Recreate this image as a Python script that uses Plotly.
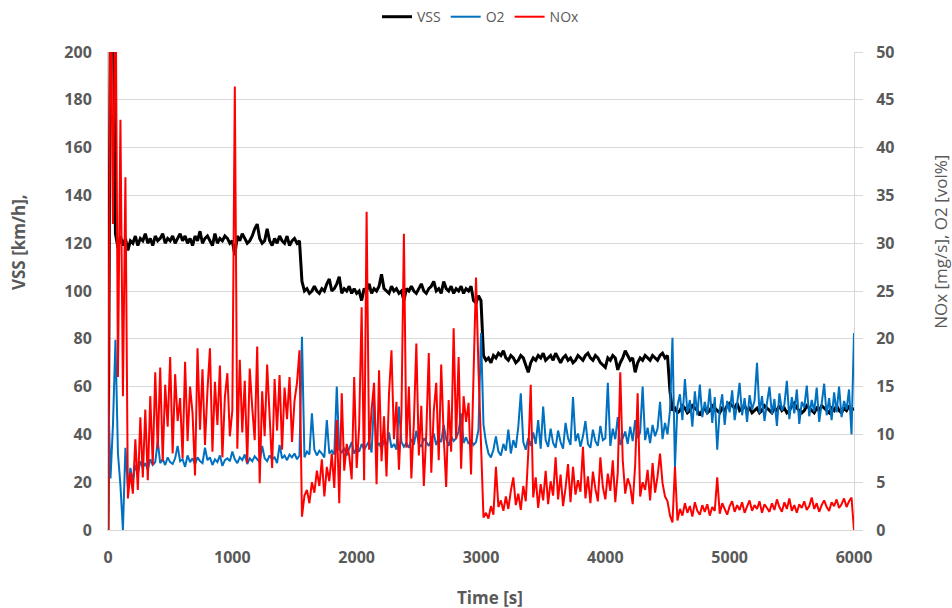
import plotly.graph_objects as go

# time grid [s], one sample every 20 s
time_s = list(range(0, 6001, 20))

# VSS [km/h], left axis
vss = [
    0, 230, 230, 124, 118, 123, 119, 122, 117, 121,
    120, 123, 119, 122, 121, 124, 120, 122, 119, 123,
    121, 122, 124, 120, 122, 121, 123, 120, 122, 124,
    121, 123, 120, 122, 119, 123, 121, 125, 120, 122,
    123, 121, 119, 124, 120, 122, 121, 123, 122, 120,
    121, 115, 123, 121, 124, 122, 120, 121, 123, 126,
    128, 122, 120, 121, 126, 121, 119, 122, 120, 123,
    121, 120, 123, 119, 121, 122, 120, 121, 104, 100,
    101, 99, 100, 102, 100, 99, 101, 100, 103, 105,
    100, 101, 103, 106, 99, 101, 100, 102, 99, 101,
    99, 100, 96, 101, 100, 103, 99, 101, 100, 102,
    107, 101, 100, 99, 102, 100, 101, 99, 100, 96,
    101, 100, 102, 100, 99, 101, 103, 100, 99, 101,
    102, 104, 100, 101, 99, 104, 101, 100, 102, 99,
    101, 100, 102, 99, 101, 100, 102, 96, 95, 98,
    96, 73, 71, 72, 70, 73, 72, 74, 73, 75,
    72, 71, 73, 72, 70, 71, 73, 72, 69, 66,
    70, 72, 71, 73, 72, 74, 71, 72, 73, 71,
    74, 72, 70, 72, 73, 71, 72, 70, 71, 73,
    72, 71, 73, 74, 72, 71, 73, 72, 70, 69,
    68, 72, 71, 73, 72, 67, 70, 72, 75, 73,
    71, 72, 66, 70, 72, 71, 73, 72, 71, 73,
    72, 71, 73, 74, 72, 73, 58, 50, 51, 49,
    50, 52, 51, 49, 50, 52, 51, 50, 48, 50,
    51, 49, 50, 52, 51, 50, 49, 51, 50, 52,
    53, 52, 51, 53, 50, 51, 52, 50, 51, 49,
    50, 51, 49, 50, 52, 51, 50, 49, 51, 50,
    52, 50, 51, 49, 50, 52, 53, 51, 50, 49,
    50, 52, 51, 50, 49, 51, 50, 52, 51, 50,
    49, 51, 50, 52, 50, 49, 51, 50, 52, 50,
    51,
]

# O2 [vol%], right axis
o2 = [
    15.3, 5.4, 11.0, 19.9, 8.0, 4.7, 0.0, 8.6, 4.4, 6.5,
    5.2, 6.8, 5.8, 7.2, 6.5, 7.0, 6.3, 7.4, 6.8, 7.1,
    9.3, 7.0, 7.4, 6.8, 7.6, 7.1, 6.9, 7.5, 8.8, 7.2,
    7.4, 6.6, 7.8, 7.1, 7.5, 6.9, 7.6, 7.2, 7.0, 8.6,
    7.3, 7.6, 6.8, 7.4, 7.1, 7.8, 6.7, 7.3, 7.5, 7.2,
    8.2, 7.4, 7.0, 7.6, 7.3, 7.9, 6.9, 7.5, 7.2, 7.7,
    7.4, 7.1, 8.8, 7.5, 7.2, 7.8, 7.4, 7.6, 7.0, 8.9,
    7.5, 7.8, 7.3, 7.9, 7.6, 8.0, 7.4, 7.8, 20.2, 7.6,
    8.2, 7.9, 12.2, 8.4, 7.8, 8.3, 8.0, 7.6, 11.5, 8.0,
    8.3, 7.9, 15.0, 8.4, 8.1, 8.6, 7.8, 8.5, 9.2, 8.0,
    8.6, 8.2, 9.0, 8.4, 8.8, 9.3, 8.1, 13.6, 8.7, 9.1,
    8.5, 9.4, 8.8, 10.2, 8.6, 9.0, 8.4, 12.9, 9.2, 8.7,
    9.1, 8.6, 9.5, 8.9, 10.4, 9.0, 8.7, 9.6, 9.2, 8.8,
    9.4, 10.1, 8.9, 9.6, 9.2, 11.0, 9.5, 8.8, 9.8, 9.3,
    9.6, 10.3, 12.2, 9.1, 9.7, 9.0, 9.4, 8.9, 9.2, 10.5,
    20.6, 11.0, 9.2, 8.0, 7.6, 8.4, 9.8, 8.2, 7.8, 9.0,
    8.3, 10.5, 8.0, 9.4, 8.6, 10.8, 14.3, 9.2, 8.4, 9.6,
    8.8, 10.2, 9.0, 11.5, 8.5, 12.9, 9.4, 8.7, 10.6, 9.1,
    8.6, 10.4, 9.2, 8.5, 11.2, 9.6, 8.9, 13.9, 9.3, 10.1,
    8.7, 9.8, 11.4, 9.0, 8.6, 10.5, 9.3, 8.8, 10.9, 9.4,
    9.6, 15.4, 8.8, 10.6, 9.5, 11.8, 8.9, 9.7, 10.3, 9.0,
    10.8, 9.3, 11.5, 9.6, 10.2, 15.0, 9.4, 10.7, 9.1, 11.0,
    9.8, 10.6, 13.4, 9.5, 11.2, 10.0, 12.5, 20.1, 6.6, 13.0,
    14.2, 11.5, 15.8, 12.3, 13.6, 10.8, 14.5, 12.0, 15.2, 11.8,
    13.4, 12.1, 14.8, 11.2, 13.9, 8.4, 12.6, 14.2, 11.0, 13.5,
    12.3, 14.6, 11.5, 13.2, 15.4, 12.0, 13.8, 11.3, 14.1, 12.6,
    13.5, 17.5, 12.2, 14.0, 11.4, 13.3, 15.0, 12.1, 13.7, 10.9,
    14.3, 12.5, 13.1, 15.6, 11.6, 13.9, 12.2, 14.7, 11.1, 13.4,
    12.8, 15.1, 11.9, 13.6, 12.4, 14.9, 11.3, 13.2, 15.3, 12.0,
    13.8, 11.5, 14.4, 12.3, 15.0, 11.8, 13.5, 12.6, 14.7, 10.0,
    20.6,
]

# NOx [mg/s], right axis
nox = [
    0.0, 60.0, 32.0, 60.0, 16.0, 42.9, 14.0, 36.9, 3.3, 6.0,
    3.8, 9.5, 4.2, 11.8, 5.5, 12.6, 5.2, 14.0, 6.8, 16.5,
    8.5, 17.0, 7.2, 15.2, 10.8, 18.1, 8.0, 16.3, 11.4, 13.8,
    7.5, 17.6, 9.3, 15.0, 12.2, 5.7, 19.0, 10.5, 16.8, 8.9,
    14.6, 19.0, 8.2, 15.5, 11.0, 17.2, 7.6, 13.9, 16.4, 9.8,
    12.5, 46.4, 8.5, 17.8, 10.2, 15.6, 7.0, 16.9, 12.8, 9.4,
    19.2, 4.9, 14.5, 9.8, 17.3, 11.2, 6.5, 15.8, 10.4, 16.2,
    8.4, 14.9, 11.6, 16.0, 9.2, 13.5, 15.4, 18.8, 1.4, 3.6,
    4.2, 2.8, 5.0, 3.9, 6.2, 4.6, 7.4, 3.5, 6.6, 5.1,
    8.0, 4.4, 11.5, 2.8, 14.3, 6.2, 9.0, 7.8, 5.3, 16.0,
    6.5, 10.8, 23.3, 5.2, 33.3, 8.4, 12.6, 15.4, 4.8, 16.7,
    7.2, 11.9, 5.6, 14.2, 18.8, 9.5, 13.4, 6.3, 12.1, 31.0,
    8.6, 15.0, 5.4, 11.2, 19.5, 7.8, 13.0, 4.6, 10.1, 18.5,
    6.0, 12.4, 15.4, 7.3, 17.3, 9.8, 4.5, 13.6, 8.2, 21.1,
    9.5, 18.1, 6.4, 14.0, 11.3, 13.3, 5.8, 16.2, 26.4, 16.7,
    9.0, 1.3, 1.8, 1.2, 2.5, 1.6, 6.6, 2.4, 3.1, 2.0,
    3.5, 2.2, 4.1, 5.5, 2.6, 3.8, 2.1, 4.6, 3.0, 8.0,
    15.2, 3.4, 5.5, 2.3, 4.8, 3.1, 6.2, 2.7, 5.1, 3.6,
    7.6, 3.2, 5.8, 2.5, 4.4, 6.9, 2.9, 6.6, 3.7, 5.2,
    4.0, 8.7, 3.3, 5.6, 2.8, 6.1, 4.3, 3.0, 7.6, 4.5,
    3.2, 5.9, 4.1, 7.3, 2.9, 6.0, 16.5, 7.3, 3.8, 5.4,
    4.6, 2.7, 6.8, 14.3, 3.5, 5.0, 4.2, 6.3, 3.1, 7.0,
    3.9, 5.6, 8.0, 4.9, 3.5, 3.0, 1.5, 0.8, 6.6, 1.0,
    2.2, 1.5, 2.8, 1.8, 2.5, 1.4, 2.9, 2.0, 1.6, 2.6,
    1.9, 2.7, 1.5, 2.4, 2.0, 5.5, 1.7, 2.8, 2.2, 1.6,
    2.5, 3.0, 1.9, 2.6, 2.1, 2.9, 1.8, 2.4, 3.1, 2.0,
    2.6, 2.2, 3.0, 1.8, 2.7, 2.3, 1.9, 2.8, 2.1, 3.2,
    2.4, 1.9, 2.9, 2.2, 3.3, 2.0, 2.6, 1.8, 2.7, 2.3,
    3.0, 2.1, 2.5, 3.4, 2.2, 2.8, 1.9, 2.6, 3.1, 2.4,
    2.0, 2.9, 2.5, 3.2, 2.3, 2.7, 3.3, 2.4, 3.0, 3.4,
    0.0,
]

GREY = "#595959"
GRID = "#d9d9d9"
tick_font = dict(family="Open Sans", size=16, color=GREY, weight="bold")
title_bold = dict(family="Open Sans", size=17, color=GREY, weight="bold")

fig = go.Figure()
fig.add_trace(go.Scatter(x=time_s, y=vss, name="VSS", mode="lines",
                         line=dict(color="#000000", width=3)))
fig.add_trace(go.Scatter(x=time_s, y=o2, name="O2", mode="lines", yaxis="y2",
                         line=dict(color="#0070C0", width=2)))
fig.add_trace(go.Scatter(x=time_s, y=nox, name="NOx", mode="lines", yaxis="y2",
                         line=dict(color="#FF0000", width=2)))

fig.update_layout(
    width=952, height=608,
    margin=dict(l=108, r=98, t=52, b=78, autoexpand=False),
    plot_bgcolor="white", paper_bgcolor="white",
    showlegend=True,
    legend=dict(orientation="h", x=0.5, xanchor="center", y=1.073, yanchor="middle",
                font=dict(family="Open Sans", size=14, color=GREY),
                itemwidth=30, tracegroupgap=0),
    xaxis=dict(range=[0, 6000], dtick=1000, showgrid=False,
               showline=True, linecolor=GRID, linewidth=1,
               ticks="outside", ticklen=13, tickcolor="rgba(0,0,0,0)",
               tickfont=tick_font, zeroline=False),
    yaxis=dict(range=[0, 200], dtick=20, showgrid=True, gridcolor=GRID,
               showline=True, linecolor=GRID, zeroline=False,
               ticks="outside", ticklen=12, tickcolor="rgba(0,0,0,0)",
               tickfont=tick_font),
    yaxis2=dict(range=[0, 50], dtick=5, overlaying="y", side="right",
                showgrid=False, zeroline=False,
                showline=True, linecolor=GRID,
                ticks="outside", ticklen=8, tickcolor=GRID,
                ticklabelstandoff=10, tickfont=tick_font),
    annotations=[
        dict(text="Time [s]", xref="paper", yref="paper", x=0.512, y=-0.142,
             xanchor="center", yanchor="middle", showarrow=False, font=title_bold),
        dict(text="VSS [km/h],", xref="paper", yref="paper", x=-0.1206, y=0.6025,
             xanchor="center", yanchor="middle", textangle=-90, showarrow=False,
             font=title_bold),
        dict(text="NOx [mg/s], O2 [vol%]", xref="paper", yref="paper", x=1.115, y=0.6025,
             xanchor="center", yanchor="middle", textangle=-90, showarrow=False,
             font=dict(family="Open Sans", size=17, color=GREY)),
    ],
)

fig.write_html("out.html", config={"displayModeBar": False},
               post_script="document.body.style.margin='0px';")
